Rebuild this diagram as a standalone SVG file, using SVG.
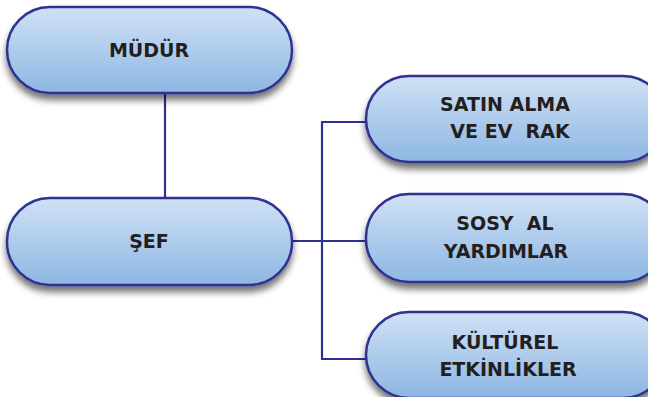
<svg xmlns="http://www.w3.org/2000/svg" width="648" height="397" viewBox="0 0 648 397">
  <defs>
    <linearGradient id="boxFill" x1="0" y1="0" x2="0" y2="1">
      <stop offset="0" stop-color="#d0e1f5"/>
      <stop offset="1" stop-color="#8db7e3"/>
    </linearGradient>
    <filter id="shadow" x="-10%" y="-10%" width="120%" height="140%">
      <feGaussianBlur in="SourceAlpha" stdDeviation="3.5"/>
      <feOffset dx="0" dy="6" result="b"/>
      <feComponentTransfer><feFuncA type="linear" slope="0.55"/></feComponentTransfer>
      <feMerge><feMergeNode/><feMergeNode in="SourceGraphic"/></feMerge>
    </filter>
  </defs>
  <style>
    .box { fill: url(#boxFill); stroke: #2e3192; stroke-width: 2.5; filter: url(#shadow); }
    .lbl { font-family: "DejaVu Sans", "Liberation Sans", sans-serif; font-weight: bold; font-size: 19px; fill: #231f20; text-anchor: middle; }
    .wire { stroke: #2e3192; stroke-width: 2.2; fill: none; }
  </style>
  <rect width="648" height="397" fill="#ffffff"/>

  <g id="connectors">
    <line class="wire" x1="165" y1="93" x2="165" y2="199"/>
    <line class="wire" x1="292" y1="241" x2="367" y2="241"/>
    <line class="wire" x1="322" y1="122" x2="322" y2="359"/>
    <line class="wire" x1="321" y1="122" x2="367" y2="122"/>
    <line class="wire" x1="321" y1="359" x2="367" y2="359"/>
  </g>

  <g id="mudur">
    <rect class="box" x="7" y="7" width="285" height="86" rx="43"/>
    <text class="lbl" x="149" y="57">MÜDÜR</text>
  </g>

  <g id="sef">
    <rect class="box" x="7" y="198" width="285" height="87" rx="43"/>
    <text class="lbl" x="149" y="248">ŞEF</text>
  </g>

  <g id="satin-alma">
    <rect class="box" x="366" y="76" width="300" height="86" rx="43"/>
    <text class="lbl" x="505" y="111">SATIN ALMA</text>
    <text class="lbl" x="510" y="138" xml:space="preserve">VE EV  RAK</text>
  </g>

  <g id="sosyal">
    <rect class="box" x="366" y="194" width="300" height="88" rx="43"/>
    <text class="lbl" x="505" y="230" xml:space="preserve">SOSY  AL</text>
    <text class="lbl" x="506" y="258">YARDIMLAR</text>
  </g>

  <g id="kulturel">
    <rect class="box" x="366" y="312" width="300" height="86" rx="43"/>
    <text class="lbl" x="505" y="349">KÜLTÜREL</text>
    <text class="lbl" x="508" y="376">ETKİNLİKLER</text>
  </g>
</svg>
